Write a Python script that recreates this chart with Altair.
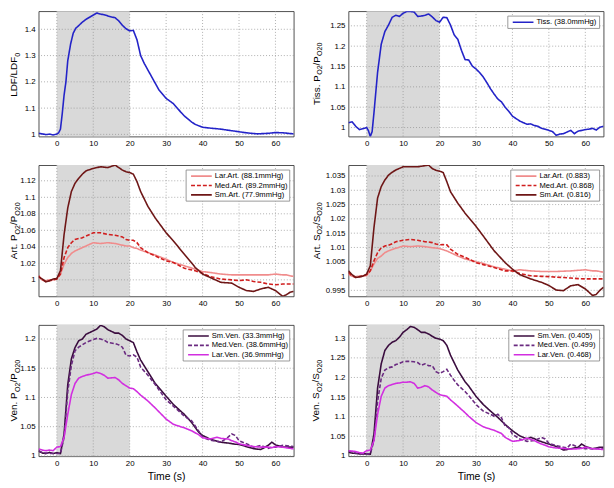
import altair as alt
import pandas as pd

FONT = "Liberation Sans"
X_DOMAIN = [-5, 65]
X_TICKS = [0, 10, 20, 30, 40, 50, 60]
STIM = [0, 20]

# ---------------- Panel 1 : LDF/LDF0 ----------------
ldf_t = [-5, -4, -3, -2, -1, 0, 0.5, 1, 1.5, 2, 2.5, 3, 3.8, 4.5, 5.2, 6, 7, 8, 9, 10, 11, 12, 13, 14,
         15, 16, 17, 18, 19, 20, 21, 22, 23, 24, 25, 26, 27, 28, 30, 32, 34, 35, 37, 38, 40, 42, 45,
         48, 50, 52, 55, 58, 60, 62, 65]
ldf_v = [1.004, 1.002, 0.999, 1.001, 0.998, 1.001, 1.006, 1.02, 1.08, 1.15, 1.2, 1.28, 1.345, 1.385,
         1.404, 1.414, 1.427, 1.438, 1.446, 1.454, 1.462, 1.458, 1.455, 1.451, 1.447, 1.444, 1.432,
         1.415, 1.402, 1.394, 1.396, 1.36, 1.30, 1.27, 1.245, 1.22, 1.195, 1.17, 1.137, 1.117, 1.085,
         1.07, 1.047, 1.038, 1.027, 1.024, 1.02, 1.014, 1.01, 1.006, 1.002, 1.004, 1.007, 1.006, 1.002]

# ---------------- Panel 2 : Tissue PO2 ----------------
tis_t = [-5, -4, -3, -2, -1, 0, 0.5, 1, 1.5] + list(range(2, 66))
tis_v = [1.012, 1.014, 1.003, 0.995, 0.997, 1.0, 0.992, 0.978, 0.99,
         1.036, 1.136, 1.205, 1.236, 1.252, 1.271, 1.276, 1.273, 1.281, 1.285, 1.285, 1.284, 1.273,
         1.274, 1.276, 1.279, 1.272, 1.263, 1.259, 1.271, 1.27, 1.252, 1.228, 1.217, 1.19, 1.167,
         1.166, 1.151, 1.144, 1.135, 1.124, 1.11, 1.095, 1.082, 1.07, 1.063, 1.05, 1.04, 1.028, 1.022,
         1.016, 1.012, 1.008, 1.009, 1.005, 1.003, 0.998, 0.996, 0.993, 0.99, 0.981, 0.984, 0.985,
         0.989, 0.993, 0.985, 0.991, 0.993, 0.995, 0.996, 0.998, 0.994, 1.001, 1.003]

# ---------------- Panels 3/4 : arterial ----------------
art_t = [-5, -4, -3, -2, -1, 0, 1, 2, 3, 4, 5, 6, 7, 8, 10, 12, 14, 16, 17, 18, 19, 20, 21, 22, 23,
         25, 27, 30, 32, 35, 38, 40, 42, 45, 48, 50, 52, 54, 56, 58, 60, 62, 63, 64, 65]
art_p_sm = [1.0036, 1.001, 0.9976, 0.999, 1.001, 1.0016, 1.011, 1.055, 1.087, 1.107, 1.117, 1.123,
            1.128, 1.132, 1.135, 1.137, 1.136, 1.139, 1.136, 1.133, 1.131, 1.130, 1.128, 1.119, 1.107,
            1.089, 1.075, 1.057, 1.047, 1.031, 1.015, 1.007, 1.003, 0.997, 0.996, 0.991, 0.987, 0.986,
            0.989, 0.991, 0.987, 0.980, 0.982, 0.985, 0.986]
art_p_med = [1.005, 1.0, 0.998, 0.999, 1.0, 1.001, 1.007, 1.027, 1.039, 1.045, 1.049, 1.05, 1.051,
             1.053, 1.057, 1.057, 1.055, 1.054, 1.053, 1.052, 1.049, 1.048, 1.048, 1.045, 1.039, 1.033,
             1.029, 1.023, 1.021, 1.014, 1.011, 1.008, 1.004, 1.001, 1.0, 0.999, 1.0, 0.998, 0.997,
             0.995, 0.994, 0.995, 0.995, 0.995, 0.995]
art_p_lar = [1.003, 1.0, 0.999, 1.0, 1.0, 1.001, 1.007, 1.019, 1.027, 1.032, 1.035, 1.037, 1.039,
             1.041, 1.045, 1.044, 1.045, 1.044, 1.043, 1.042, 1.041, 1.041, 1.039, 1.038, 1.036, 1.033,
             1.03, 1.025, 1.021, 1.017, 1.013, 1.010, 1.009, 1.007, 1.006, 1.006, 1.006, 1.006, 1.006,
             1.006, 1.007, 1.006, 1.006, 1.005, 1.004]
art_s_sm = [1.0018, 1.0005, 0.9995, 0.9997, 1.0, 1.0007, 1.0036, 1.0169, 1.0273, 1.0313, 1.0336,
            1.0353, 1.0363, 1.0371, 1.0382, 1.0382, 1.0382, 1.0386, 1.0388, 1.0376, 1.037, 1.0367,
            1.0362, 1.033, 1.0295, 1.0255, 1.022, 1.0174, 1.014, 1.0088, 1.0047, 1.0024, 1.0005, 0.999,
            0.9978, 0.9967, 0.9951, 0.9949, 0.9966, 0.997, 0.9955, 0.9932, 0.9936, 0.995, 0.9961]
art_s_med = [1.0013, 1.0, 0.9995, 0.9998, 1.0, 1.0005, 1.0018, 1.0053, 1.0082, 1.0099, 1.0105,
             1.0108, 1.0113, 1.012, 1.0125, 1.0128, 1.0125, 1.012, 1.0119, 1.0117, 1.0112, 1.0109,
             1.011, 1.0109, 1.0094, 1.0076, 1.0066, 1.0047, 1.004, 1.003, 1.0018, 1.0018, 1.0009,
             1.0001, 0.9999, 0.9998, 0.9996, 0.9995, 0.9993, 0.9991, 0.999, 0.999, 0.999, 0.999, 0.999]
art_s_lar = [1.0005, 1.0, 0.9998, 0.9999, 1.0, 1.0002, 1.0018, 1.0042, 1.0062, 1.007, 1.0082, 1.0088,
             1.0093, 1.0097, 1.0105, 1.0103, 1.0105, 1.0103, 1.0101, 1.0099, 1.0098, 1.0096, 1.0092,
             1.0088, 1.0082, 1.007, 1.006, 1.005, 1.0044, 1.0032, 1.0024, 1.0018, 1.0022, 1.0018,
             1.0016, 1.0016, 1.0016, 1.0017, 1.0018, 1.002, 1.0022, 1.0018, 1.0018, 1.0016, 1.0013]

# ---------------- Panel 5 : venous PO2 ----------------
venp_t = [-5, -4, -3, -2, -1, 0, 1, 2, 3, 4, 5, 6, 7, 8, 10, 11, 12, 13, 14, 16, 17, 18, 19, 20, 21,
          22, 23, 25, 27, 30, 32, 35, 37, 39, 40, 42, 44, 45, 47, 48, 49, 50, 52, 54, 56, 58, 59, 60,
          62, 65]
ven_p_sm = [1.0084, 1.005, 1.004, 1.006, 1.004, 1.0056, 1.004, 1.0375, 1.1216, 1.166, 1.1855, 1.197,
            1.2, 1.208, 1.214, 1.217, 1.2235, 1.221, 1.216, 1.210, 1.210, 1.206, 1.2, 1.197, 1.194,
            1.178, 1.164, 1.144, 1.124, 1.102, 1.088, 1.071, 1.057, 1.040, 1.035, 1.029, 1.025, 1.0235,
            1.022, 1.021, 1.02, 1.0196, 1.016, 1.0123, 1.011, 1.018, 1.0235, 1.019, 1.015, 1.015]
ven_p_med = [1.009, 1.006, 1.005, 1.004, 1.004, 1.004, 1.004, 1.032, 1.11, 1.155, 1.18, 1.186, 1.19,
             1.194, 1.199, 1.201, 1.2, 1.198, 1.194, 1.192, 1.19, 1.186, 1.172, 1.171, 1.173, 1.169,
             1.152, 1.138, 1.122, 1.096, 1.085, 1.068, 1.06, 1.042, 1.032, 1.027, 1.025, 1.0235, 1.032,
             1.0375, 1.035, 1.026, 1.021, 1.015, 1.018, 1.013, 1.015, 1.015, 1.018, 1.016]
ven_p_lar = [1.012, 1.01, 1.009, 1.01, 1.009, 1.015, 1.016, 1.032, 1.071, 1.105, 1.124, 1.133, 1.136,
             1.138, 1.141, 1.143, 1.141, 1.138, 1.133, 1.134, 1.13, 1.124, 1.12, 1.116, 1.115, 1.110,
             1.104, 1.094, 1.082, 1.063, 1.054, 1.048, 1.043, 1.036, 1.031, 1.029, 1.032, 1.03, 1.029,
             1.026, 1.024, 1.021, 1.018, 1.016, 1.015, 1.015, 1.014, 1.016, 1.015, 1.012]

# ---------------- Panel 6 : venous SO2 ----------------
vens_t = [-5, -4, -3, -2, -1, 0] + list(range(1, 26)) + [27, 28, 30, 32, 34, 35, 36, 37, 38, 39, 40,
          42, 44, 45, 46, 47, 48, 49, 50, 52, 54, 55, 56, 58, 59, 60, 62, 64, 65]
ven_s_sm = [1.009, 1.007, 1.006, 1.005, 1.005, 1.005, 1.004, 1.055, 1.173, 1.235, 1.269, 1.282, 1.29,
            1.294, 1.303, 1.315, 1.322, 1.330, 1.328, 1.322, 1.315, 1.315, 1.311, 1.305, 1.3, 1.298,
            1.294, 1.282, 1.257, 1.238, 1.219, 1.189, 1.178, 1.152, 1.131, 1.114, 1.106, 1.098, 1.089,
            1.08, 1.072, 1.064, 1.051, 1.043, 1.047, 1.044, 1.039, 1.036, 1.033, 1.030, 1.024, 1.015,
            1.016, 1.018, 1.022, 1.030, 1.024, 1.018, 1.022, 1.022]
ven_s_med = [1.013, 1.01, 1.007, 1.006, 1.005, 1.005, 1.005, 1.0385, 1.139, 1.198, 1.219, 1.225, 1.227,
             1.233, 1.236, 1.24, 1.241, 1.241, 1.24, 1.238, 1.231, 1.235, 1.23, 1.23, 1.215, 1.21, 1.215,
             1.221, 1.206, 1.193, 1.181, 1.164, 1.154, 1.131, 1.114, 1.106, 1.101, 1.106, 1.097, 1.076,
             1.072, 1.055, 1.043, 1.037, 1.038, 1.039, 1.043, 1.047, 1.043, 1.032, 1.026, 1.022, 1.02,
             1.030, 1.022, 1.02, 1.018, 1.018, 1.019, 1.018]
ven_s_lar = [1.013, 1.012, 1.011, 1.008, 1.007, 1.013, 1.015, 1.0385, 1.106, 1.152, 1.173, 1.179,
             1.182, 1.185, 1.186, 1.188, 1.188, 1.189, 1.185, 1.173, 1.175, 1.179, 1.176, 1.168, 1.162,
             1.156, 1.154, 1.152, 1.143, 1.135, 1.127, 1.110, 1.101, 1.085, 1.074, 1.068, 1.065, 1.061,
             1.057, 1.047, 1.042, 1.037, 1.039, 1.045, 1.042, 1.039, 1.034, 1.030, 1.027, 1.023, 1.020,
             1.019, 1.018, 1.017, 1.018, 1.019, 1.022, 1.018, 1.017, 1.016]

# ---------------- labels / styles ----------------
tis_names = ["Tiss. (38.0mmHg)"]
art_p_names = ["Lar.Art. (88.1mmHg)", "Med.Art. (89.2mmHg)", "Sm.Art. (77.9mmHg)"]
art_s_names = ["Lar.Art. (0.883)", "Med.Art. (0.868)", "Sm.Art. (0.816)"]
ven_p_names = ["Sm.Ven. (33.3mmHg)", "Med.Ven. (38.6mmHg)", "Lar.Ven. (36.9mmHg)"]
ven_s_names = ["Sm.Ven. (0.405)", "Med.Ven. (0.499)", "Lar.Ven. (0.468)"]

BLUE = ["#2323c8"]
ART_COLORS = ["#f08c8c", "#d01e1e", "#6e1616"]
VEN_COLORS = ["#3a0c3e", "#6a2a80", "#d22ee0"]
SOLID = [1, 0]
DASH = [4, 2]

W = 258.5
H_TOP = 127
H = 133
TICK_FS = 8

CW = {" ": .278, ".": .278, "/": .278, "(": .333, ")": .333, "A": .667, "D": .722, "F": .611,
      "L": .556, "O": .778, "P": .667, "S": .667, "T": .611, "V": .667, "a": .556, "e": .556,
      "i": .222, "n": .556, "r": .333, "s": .5, "t": .278}


def text_w(s, size):
    return sum(CW.get(c, 0.556) for c in s) * size


def ytitle(parts, h, xoff):
    main, sub = 10, 7.2
    total = sum(text_w(p, sub if s else main) for p, s in parts)
    y = h / 2 + total / 2
    out = []
    for p, s in parts:
        size = sub if s else main
        out.append(
            alt.Chart(pd.DataFrame({"s": [p]}))
            .mark_text(angle=270, align="left", baseline="alphabetic", fontSize=size,
                       font=FONT, color="black")
            .encode(x=alt.value(xoff + (2.6 if s else 0)), y=alt.value(y), text="s:N")
        )
        y -= text_w(p, size)
    return out


def legend(labels, colors, dashes, bw):
    n = len(labels)
    bx = W - 4 - bw
    by = 5
    bh = 12.5 + 9.5 * (n - 1)
    out = [
        alt.Chart(pd.DataFrame({"a": [0]}))
        .mark_rect(fill="white", stroke="#808080", strokeWidth=0.8)
        .encode(x=alt.value(bx), x2=alt.value(bx + bw), y=alt.value(by), y2=alt.value(by + bh))
    ]
    for i, (lab, col, d) in enumerate(zip(labels, colors, dashes)):
        yy = by + 6.2 + 9.5 * i
        out.append(
            alt.Chart(pd.DataFrame({"a": [0]}))
            .mark_rule(color=col, strokeDash=d, strokeWidth=1.6)
            .encode(x=alt.value(bx + 5), x2=alt.value(bx + 26), y=alt.value(yy))
        )
        out.append(
            alt.Chart(pd.DataFrame({"s": [lab]}))
            .mark_text(align="left", baseline="middle", fontSize=7.7, font=FONT, color="black")
            .encode(x=alt.value(bx + 29), y=alt.value(yy), text="s:N")
        )
    return out


def panel(series, names, colors, dashes, ydom, yticks, tparts, txoff, h,
          leg_w=None, xtitle=None):
    xs = alt.Scale(domain=X_DOMAIN, nice=False, zero=False)
    ys = alt.Scale(domain=ydom, nice=False, zero=False)
    ax_kw = dict(values=X_TICKS, grid=False, ticks=False, domain=False, labelFontSize=TICK_FS,
                 labelFont=FONT, labelColor="black", labelPadding=3.5, labelFlush=False,
                 titleFontSize=10.5, titleFont=FONT, titleFontWeight="normal",
                 titleColor="black", titlePadding=4.5)
    ax = alt.Axis(title=xtitle, **ax_kw) if xtitle else alt.Axis(title=None, **ax_kw)
    ay = alt.Axis(values=yticks, format="~g", title=None, grid=False, ticks=False, domain=False,
                  labelFontSize=TICK_FS, labelFont=FONT, labelColor="black", labelPadding=3.5,
                  labelFlush=False, labelOverlap=False)

    shade = (
        alt.Chart(pd.DataFrame({"a": [STIM[0]], "b": [STIM[1]]}))
        .mark_rect(color="#d9d9d9")
        .encode(x=alt.X("a:Q", scale=xs, axis=ax), x2="b:Q")
    )
    xgrid = (
        alt.Chart(pd.DataFrame({"t": X_TICKS}))
        .mark_rule(color="#8c8c8c", strokeDash=[1, 2], strokeWidth=0.7)
        .encode(x=alt.X("t:Q", scale=xs, axis=ax))
    )
    ygrid = (
        alt.Chart(pd.DataFrame({"v": yticks}))
        .mark_rule(color="#8c8c8c", strokeDash=[1, 2], strokeWidth=0.7)
        .encode(y=alt.Y("v:Q", scale=ys, axis=ay))
    )
    layers = [shade, xgrid, ygrid]
    for (tt, vv), nm, col, d in zip(series, names, colors, dashes):
        df = pd.DataFrame({"t": tt, "v": vv, "series": nm})
        layers.append(
            alt.Chart(df)
            .mark_line(strokeWidth=1.6, clip=True, color=col, strokeDash=d)
            .encode(x=alt.X("t:Q", scale=xs, axis=ax), y=alt.Y("v:Q", scale=ys, axis=ay))
        )
    if leg_w:
        layers += legend(names, colors, dashes, leg_w)
    layers += ytitle(tparts, h, txoff)
    return alt.layer(*layers).properties(width=W, height=h)


p1 = panel([(ldf_t, ldf_v)], ["LDF"], BLUE, [SOLID], [0.992, 1.469], [1, 1.1, 1.2, 1.3, 1.4],
           [("LDF/LDF", False), (" 0", True)], -21.5, H_TOP)
p2 = panel([(tis_t, tis_v)], tis_names, BLUE, [SOLID], [0.978, 1.286],
           [1, 1.05, 1.1, 1.15, 1.2, 1.25],
           [("Tiss. P", False), ("O2", True), ("/P", False), ("O20", True)], -29, H_TOP,
           leg_w=93)
p3 = panel([(art_t, art_p_lar), (art_t, art_p_med), (art_t, art_p_sm)], art_p_names, ART_COLORS,
           [SOLID, DASH, SOLID], [0.98, 1.139], [1, 1.02, 1.04, 1.06, 1.08, 1.1, 1.12],
           [("Art. P", False), ("O2", True), ("/P", False), ("O20", True)], -21.5, H, leg_w=105)
p4 = panel([(art_t, art_s_lar), (art_t, art_s_med), (art_t, art_s_sm)], art_s_names, ART_COLORS,
           [SOLID, DASH, SOLID], [0.9929, 1.0388],
           [0.995, 1, 1.005, 1.01, 1.015, 1.02, 1.025, 1.03, 1.035],
           [("Art. S", False), ("O2", True), ("/S", False), ("O20", True)], -29, H, leg_w=90)
p5 = panel([(venp_t, ven_p_sm), (venp_t, ven_p_med), (venp_t, ven_p_lar)], ven_p_names,
           VEN_COLORS, [SOLID, DASH, SOLID], [0.9995, 1.224], [1, 1.05, 1.1, 1.15, 1.2],
           [("Ven. P", False), ("O2", True), ("/P", False), ("O20", True)], -21.5, H, leg_w=108,
           xtitle="Time (s)")
p6 = panel([(vens_t, ven_s_sm), (vens_t, ven_s_med), (vens_t, ven_s_lar)], ven_s_names,
           VEN_COLORS, [SOLID, DASH, SOLID], [0.999, 1.334], [1, 1.05, 1.1, 1.15, 1.2, 1.25, 1.3],
           [("Ven. S", False), ("O2", True), ("/S", False), ("O20", True)], -29.5, H, leg_w=92,
           xtitle="Time (s)")

chart = (
    alt.concat(p1, p2, p3, p4, p5, p6, columns=2, spacing={"row": 29, "column": 55},
               bounds="flush", align="each")
    .configure_view(stroke="#3c3c3c", strokeWidth=0.9)
    .properties(autosize=alt.AutoSizeParams(type="none"),
                padding={"left": 31, "top": 0, "right": 575, "bottom": 480},
                background="white")
)

chart.save("out.html", embed_options={"renderer": "svg", "actions": False})
